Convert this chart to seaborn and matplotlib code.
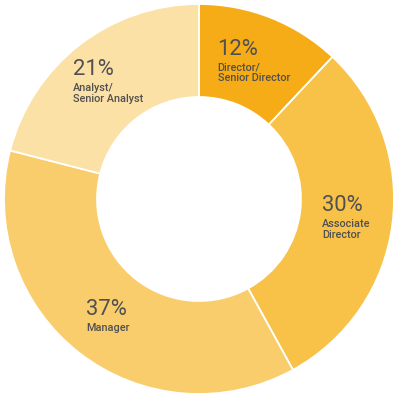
import numpy as np
import matplotlib
matplotlib.use("Agg")
import matplotlib.pyplot as plt
import seaborn as sns
from matplotlib.offsetbox import TextArea, VPacker, AnnotationBbox

# Share of roles
roles = ["Director/\nSenior Director", "Associate\nDirector", "Manager", "Analyst/\nSenior Analyst"]
shares = [12, 30, 37, 21]
colors = ["#F5AC16", "#F8C148", "#F9CD6C", "#FCE1A6"]

sns.set_theme(style="white")
plt.rcParams["font.family"] = ["Roboto", "DejaVu Sans"]

text_color = "#505050"
outer_r = 1.0
ring_w = 0.477

fig = plt.figure(figsize=(3.96, 3.96), dpi=100)
ax = fig.add_axes([0, 0, 1, 1])

wedges, _ = ax.pie(
    shares,
    radius=outer_r,
    startangle=90,
    counterclock=False,
    colors=colors,
    wedgeprops=dict(width=ring_w, edgecolor="white", linewidth=1.3),
)

# Label blocks sit at the middle of each ring segment
mid_r = outer_r - ring_w / 2
for wedge, share, role in zip(wedges, shares, roles):
    ang = np.deg2rad((wedge.theta1 + wedge.theta2) / 2)
    x, y = mid_r * np.cos(ang), mid_r * np.sin(ang)
    pct = TextArea(f"{share}%", textprops=dict(fontsize=15.8, color=text_color, fontweight="normal"))
    name = TextArea(role, textprops=dict(fontsize=7.8, color=text_color, fontweight="medium",
                                         linespacing=1.12))
    box = VPacker(children=[pct, name], align="left", pad=0, sep=2)
    ab = AnnotationBbox(box, (x, y), xycoords="data", box_alignment=(0.5, 0.5),
                        frameon=False, pad=0)
    ax.add_artist(ab)

ax.set_xlim(-199 / 195, 197 / 195)
ax.set_ylim(-197 / 195, 199 / 195)
ax.set_axis_off()

fig.savefig("out.png", dpi=100, facecolor="white")
